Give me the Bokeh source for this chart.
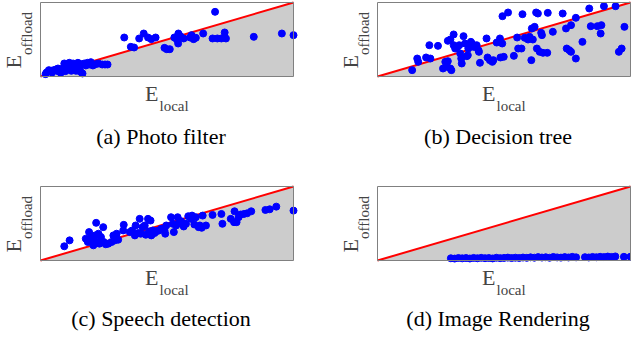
from bokeh.plotting import figure
from bokeh.models import Range1d, Label
from bokeh.layouts import column, row
from bokeh.embed import file_html
from bokeh.resources import INLINE
import math

# ---------------- data (normalised energy, 0..100) ----------------
diag = [0, 100]

a_local = [69.0, 33.1, 35.7, 37.0, 39.0, 40.8, 42.5, 43.8, 45.5, 49.0, 49.9, 51.1, 52.9, 53.9,
           54.5, 54.4, 55.3, 56.6, 59.1, 59.7, 60.5, 61.4, 64.3, 68.0, 69.9, 71.5, 72.8, 73.3,
           84.3, 95.4, 100.0,
           2.4, 3.3, 4.2, 5.2, 6.1, 7.2, 8.0, 8.8, 9.4, 10.2, 10.8, 11.4, 12.2, 12.9, 13.5,
           14.1, 14.8, 15.4, 16.1, 16.6, 17.3, 17.9, 18.6, 19.2, 19.9, 20.7, 21.8, 22.9, 24.4,
           25.5, 26.5, 2.0, 4.6, 6.9, 9.8, 12.2, 14.0, 15.8, 10.5, 7.8]
a_offload = [87.4, 52.7, 40.1, 39.2, 51.4, 58.1, 52.7, 50.5, 52.7, 38.7, 36.9, 36.9, 52.7, 50.0,
             58.1, 44.6, 54.5, 51.4, 52.7, 55.9, 50.5, 52.3, 58.1, 51.4, 51.4, 51.4, 59.5, 51.4,
             53.6, 58.1, 55.9,
             5.4, 8.6, 7.7, 8.6, 9.5, 6.8, 5.0, 10.8, 17.6, 13.1, 9.5, 18.5, 15.8, 17.6, 10.8,
             15.3, 18.5, 9.5, 16.7, 4.1, 17.6, 14.9, 18.5, 16.2, 19.4, 14.9, 16.7, 17.6, 16.2,
             16.2, 16.2, 3.2, 5.4, 10.8, 7.2, 7.7, 7.7, 6.3, 15.3, 9.5]

b_local = [13.7, 15.7, 16.1, 19.2, 20.9, 20.5, 23.9, 25.9, 26.8, 27.5, 27.8, 28.8, 29.2, 27.8,
           28.8, 30.1, 30.1, 30.7, 31.6, 32.3, 32.7, 33.1, 33.3, 34.0, 34.6, 35.3, 35.7, 35.9,
           36.9, 37.3, 37.9, 38.6, 39.2, 39.9, 40.1, 40.5, 43.1, 43.5, 44.4, 45.4, 45.8, 47.1,
           48.4, 48.6, 49.3, 49.4, 49.9, 51.6, 53.9, 55.2, 55.6, 56.9, 57.3, 58.2, 59.5, 60.1,
           60.8, 61.0, 61.4, 62.1, 62.7, 63.0, 63.4, 64.1, 64.7, 65.0, 65.4, 67.1, 67.3, 69.3,
           73.2, 74.5, 74.8, 75.8, 76.5, 76.5, 78.4, 78.4, 81.0, 83.7, 84.3, 86.9, 88.2, 88.5,
           89.5, 94.1, 95.4, 96.5, 97.6]
b_offload = [8.6, 24.3, 19.8, 25.7, 24.3, 42.3, 41.4, 10.8, 19.8, 13.1, 20.7, 10.8, 8.6, 48.2,
             50.0, 56.8, 42.3, 37.8, 40.1, 42.3, 31.1, 24.3, 17.6, 54.5, 44.6, 27.5, 28.8, 37.8,
             46.8, 44.6, 40.1, 40.1, 42.3, 35.6, 33.3, 18.5, 51.4, 25.7, 22.1, 19.8, 22.1, 45.9,
             51.4, 25.7, 44.6, 81.5, 26.6, 86.5, 27.9, 52.7, 37.8, 37.8, 84.2, 52.3, 50.0, 53.6,
             22.1, 64.9, 50.0, 67.1, 86.5, 37.8, 85.1, 33.3, 59.0, 55.9, 32.0, 32.0, 86.0, 60.4,
             85.1, 64.9, 37.8, 35.6, 33.3, 69.4, 79.3, 24.3, 46.8, 91.9, 68.0, 68.0, 58.1, 69.4,
             95.0, 95.0, 33.3, 37.8, 67.1]

c_local = [9.4, 11.5, 17.9, 18.7, 19.2, 20.0, 20.7, 20.9, 21.6, 22.0, 22.4, 22.9, 23.3, 23.9,
           24.8, 25.0, 25.8, 26.8, 28.1, 28.8, 29.4, 30.1, 30.7, 32.7, 32.9, 35.3, 36.2, 37.3,
           37.6, 38.6, 39.2, 39.6, 40.3, 41.2, 41.6, 42.5, 42.9, 43.5, 43.8, 44.4, 45.1, 46.0,
           46.8, 47.7, 49.0, 49.3, 49.7, 51.6, 52.3, 52.7, 53.6, 54.2, 54.9, 55.6, 56.6, 57.5,
           58.4, 59.5, 59.9, 60.8, 61.4, 62.5, 63.0, 63.7, 64.1, 65.4, 68.0, 71.5, 71.9, 75.2,
           76.5, 76.7, 77.5, 78.3, 79.1, 80.4, 81.7, 83.3, 88.9, 90.6, 93.2, 100.0]
c_offload = [19.2, 27.2, 29.5, 25.0, 38.4, 31.7, 27.2, 20.5, 33.9, 50.9, 25.0, 36.2, 22.8, 31.7,
             45.1, 25.0, 21.9, 22.8, 25.0, 33.9, 27.2, 36.2, 28.1, 40.6, 48.2, 38.4, 40.6, 33.9,
             47.3, 37.1, 56.3, 36.2, 45.1, 47.3, 34.8, 56.3, 39.3, 54.0, 33.9, 40.6, 37.1, 39.7,
             40.6, 42.9, 40.6, 36.2, 47.3, 58.5, 49.6, 38.4, 47.3, 58.5, 50.4, 53.1, 46.0, 49.6,
             59.8, 56.3, 60.7, 48.7, 58.5, 45.1, 47.3, 44.2, 60.7, 47.3, 61.6, 62.9, 49.6, 56.3,
             51.8, 66.5, 51.8, 58.5, 62.1, 62.9, 63.8, 66.5, 68.3, 69.2, 72.8, 67.4]

d_local = [29.0, 30.5, 32.0, 33.5, 35.0, 36.5, 38.0, 39.5, 41.0, 42.5, 44.0, 45.5, 47.0, 48.5,
           50.0, 51.5, 53.0, 54.5, 56.0, 57.5, 59.0, 60.5, 62.0, 63.5, 65.0, 66.5, 68.0, 69.5,
           71.0, 72.5, 74.0, 75.5, 77.0, 78.5, 82.0, 83.5, 85.0, 86.5, 88.0, 89.5, 91.0, 92.5,
           94.0, 97.4, 100.0]
d_offload = [3.0, 2.6, 3.4, 2.9, 3.3, 2.7, 3.5, 3.0, 3.6, 3.1, 3.4, 2.8, 3.7, 3.2,
             3.5, 3.9, 3.3, 3.8, 3.4, 4.0, 3.6, 4.3, 3.8, 4.6, 4.0, 4.4, 3.7, 4.8,
             4.2, 3.9, 4.6, 4.1, 4.9, 4.3, 4.5, 4.1, 4.8, 4.4, 5.0, 4.6, 5.3, 4.8,
             5.5, 5.0, 5.2]

captions = ["(a) Photo filter", "(b) Decision tree", "(c) Speech detection", "(d) Image Rendering"]

SERIF = "'Liberation Serif', 'Times New Roman', serif"
LABEL_GRAY = "#444444"
BOX_W, BOX_H = 253, 74
SHIFT = 0.36  # svg text is drawn ~this many em below its anchor; compensate


def panel(xs, ys, caption, width, height, box_left, box_top, caption_gap):
    # the frame covers the whole canvas; the visible axes box is a sub-area of it
    sx = BOX_W / 100.0
    sy = BOX_H / 100.0
    box_bottom = height - box_top - BOX_H  # px from canvas bottom
    xr = Range1d(-box_left / sx, (width - box_left) / sx)
    yr = Range1d(-box_bottom / sy, (height - box_bottom) / sy)
    p = figure(width=width, height=height, output_backend="svg", toolbar_location=None,
               x_axis_location=None, y_axis_location=None, x_range=xr, y_range=yr,
               min_border=0, min_border_left=0, min_border_right=0,
               min_border_top=0, min_border_bottom=0)
    p.grid.visible = False
    p.background_fill_color = "white"
    p.border_fill_color = "white"
    p.outline_line_color = None

    p.patch([diag[0], diag[1], diag[1]], [diag[0], diag[0], diag[1]],
            fill_color="#cccccc", line_color=None)
    p.line(diag, diag, line_color="#ff0000", line_width=2)
    p.scatter(xs, ys, size=7, fill_color="#0000ff", line_color="#0000ff")
    p.quad(left=[diag[0]], right=[diag[1]], bottom=[diag[0]], top=[diag[1]],
           fill_color=None, line_color="#808080", line_width=1)

    def lab(dx, dy, text, size, color, rotated=False, align="left"):
        # dx, dy: desired baseline anchor relative to the box's bottom-left corner (y up)
        c = SHIFT * size
        if rotated:
            x, y, ang = box_left + dx - c, box_bottom + dy, math.pi / 2
        else:
            x, y, ang = box_left + dx, box_bottom + dy + c, 0.0
        p.add_layout(Label(x=x, y=y, x_units="screen", y_units="screen", text=text,
                           angle=ang, text_font=SERIF, text_font_size=f"{size}px",
                           text_color=color, text_baseline="alphabetic", text_align=align))

    # x label  E_local
    lab(104.5, -25.4, "E", 22, LABEL_GRAY)
    lab(119.0, -34.4, "local", 15, LABEL_GRAY)
    # y label  E_offload (rotated)
    lab(-19.0, 8.0, "E", 22, LABEL_GRAY, rotated=True)
    lab(-8.5, 21.5, "offload", 15, LABEL_GRAY, rotated=True)
    # caption
    lab(120.5, -caption_gap, caption, 22, "black", align="center")
    return p


pa = panel(a_local, a_offload, captions[0], 310, 184, 40, 2, 68)
pb = panel(b_local, b_offload, captions[1], 321, 184, 67, 2, 68)
pc = panel(c_local, c_offload, captions[2], 310, 147, 40, 2, 66)
pd = panel(d_local, d_offload, captions[3], 321, 147, 67, 2, 66)

layout = column(row(pa, pb, spacing=0), row(pc, pd, spacing=0), spacing=0)

open("out.html", "w").write(file_html(layout, INLINE))
